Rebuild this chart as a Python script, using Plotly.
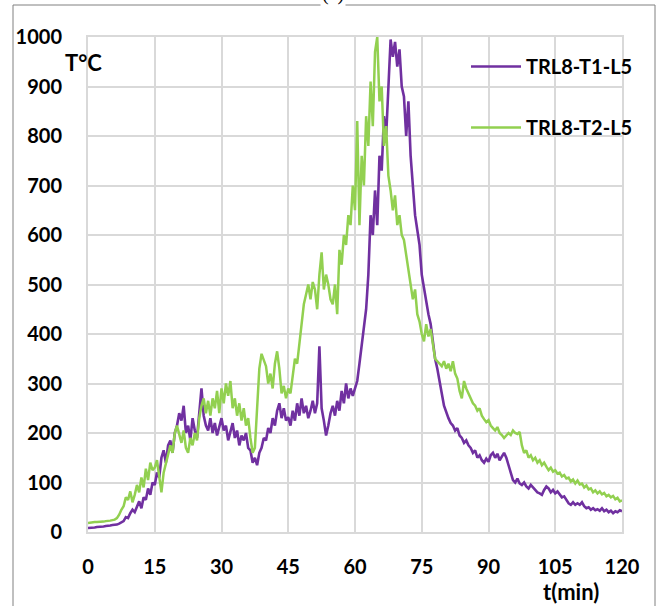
import numpy as np
import plotly.graph_objects as go

# time axis, minutes (readings every 0.5 min)
t_min = np.arange(0, 120.5, 0.5)

# TRL8-T1-L5 temperature, degC, in 5-minute blocks
t1_temp = (
    [8, 8, 9, 9, 10, 10, 11, 11, 12, 12]
    + [13, 14, 14, 15, 17, 20, 22, 30, 28, 38]
    + [45, 40, 52, 62, 48, 70, 65, 88, 75, 100]
    + [95, 120, 110, 150, 165, 140, 175, 185, 160, 200]
    + [215, 240, 225, 255, 200, 215, 185, 230, 205, 190]
    + [240, 290, 235, 215, 205, 230, 200, 220, 195, 210]
    + [230, 205, 215, 185, 200, 220, 190, 205, 175, 195]
    + [185, 200, 170, 165, 140, 150, 135, 160, 170, 190]
    + [185, 210, 200, 230, 215, 245, 260, 230, 250, 225]
    + [232, 215, 245, 225, 260, 235, 270, 240, 255, 230]
    + [245, 265, 240, 260, 375, 250, 225, 195, 215, 240]
    + [255, 235, 265, 245, 285, 260, 300, 270, 290, 275]
    + [290, 305, 340, 380, 410, 450, 520, 640, 600, 690]
    + [620, 760, 730, 840, 800, 900, 995, 960, 990, 940]
    + [975, 900, 880, 800, 870, 760, 690, 640, 610, 580]
    + [520, 490, 460, 440, 420, 380, 350, 330, 300, 280]
    + [255, 240, 230, 220, 215, 205, 210, 195, 190, 180]
    + [185, 175, 170, 160, 165, 150, 155, 145, 140, 148]
    + [142, 155, 160, 150, 158, 145, 152, 160, 150, 135]
    + [115, 105, 100, 108, 98, 95, 100, 92, 88, 95]
    + [90, 85, 80, 78, 75, 85, 92, 88, 80, 85]
    + [78, 82, 75, 70, 72, 65, 58, 55, 60, 55]
    + [58, 55, 60, 52, 48, 50, 45, 48, 44, 46]
    + [43, 48, 42, 45, 40, 43, 38, 42, 40, 44]
    + [42]
)

# TRL8-T2-L5 temperature, degC, in 5-minute blocks
t2_temp = (
    [18, 19, 19, 20, 20, 20, 21, 21, 22, 22]
    + [23, 24, 25, 28, 35, 45, 52, 70, 65, 82]
    + [60, 75, 95, 80, 110, 90, 128, 105, 140, 125]
    + [130, 145, 110, 80, 120, 140, 155, 175, 160, 200]
    + [215, 200, 180, 205, 170, 160, 190, 175, 200, 185]
    + [230, 255, 270, 240, 265, 235, 270, 250, 285, 240]
    + [290, 260, 300, 275, 305, 250, 270, 235, 260, 225]
    + [250, 215, 230, 190, 160, 170, 240, 330, 360, 345]
    + [335, 300, 320, 290, 340, 365, 330, 280, 295, 270]
    + [290, 280, 320, 350, 340, 385, 420, 460, 480, 500]
    + [470, 505, 490, 450, 520, 565, 490, 520, 500, 470]
    + [460, 500, 440, 570, 540, 600, 580, 640, 620, 700]
    + [650, 830, 620, 760, 700, 840, 780, 910, 820, 970]
    + [1000, 870, 900, 780, 820, 720, 690, 650, 680, 620]
    + [640, 600, 590, 560, 520, 500, 470, 490, 440, 425]
    + [400, 385, 420, 395, 410, 380, 350, 345, 340, 335]
    + [345, 330, 340, 325, 345, 320, 310, 285, 270, 305]
    + [290, 280, 270, 260, 255, 245, 250, 235, 228, 222]
    + [226, 215, 210, 205, 212, 200, 196, 190, 195, 200]
    + [196, 205, 200, 198, 202, 175, 160, 165, 150, 155]
    + [145, 150, 140, 145, 135, 140, 132, 125, 130, 122]
    + [125, 118, 120, 112, 115, 108, 110, 102, 106, 98]
    + [104, 96, 98, 90, 94, 86, 88, 80, 84, 78]
    + [82, 76, 79, 72, 75, 70, 73, 66, 69, 62]
    + [64]
)

series_names = ["TRL8-T1-L5", "TRL8-T2-L5"]
x_ticks = [0, 15, 30, 45, 60, 75, 90, 105, 120]
y_ticks = [0, 100, 200, 300, 400, 500, 600, 700, 800, 900, 1000]

PURPLE = "#7030A0"
GREEN = "#92D050"
GRID = "#d9d9d9"
FONT = "Lato"

W, H = 659, 606
L, R, T, B = 88, 37, 37, 74
PW, PH = W - L - R, H - T - B


def px_x(px):
    return (px - L) / PW


def px_y(py):
    return (H - B - py) / PH


fig = go.Figure()
fig.add_trace(go.Scatter(
    x=t_min, y=t1_temp, mode="lines", name=series_names[0],
    legendgroup="a", line=dict(color=PURPLE, width=2.6),
))
fig.add_trace(go.Scatter(
    x=t_min, y=t2_temp, mode="lines", name=series_names[1],
    legendgroup="b", line=dict(color=GREEN, width=2.5),
))

axis_common = dict(
    showgrid=True, gridcolor=GRID, gridwidth=2,
    showline=True, linecolor=GRID, linewidth=2, mirror=True,
    zeroline=False, ticks="",
    tickfont=dict(family=FONT, size=20, color="black", weight="bold"),
)
fig.update_xaxes(range=[0, 120], tickvals=x_ticks, ticklabelstandoff=16, **axis_common)
fig.update_yaxes(range=[0, 1000], tickvals=y_ticks, ticklabelstandoff=20, **axis_common)

# outer frame
fig.add_shape(type="rect", xref="paper", yref="paper",
              x0=px_x(13), x1=px_x(655), y0=px_y(620), y1=px_y(5),
              line=dict(color="#808080", width=1), layer="below")

fig.add_annotation(text="T°C", xref="paper", yref="paper",
                   x=px_x(83), y=px_y(62), xanchor="center", yanchor="middle",
                   showarrow=False,
                   font=dict(family=FONT, size=22, color="black", weight="bold"))
fig.add_annotation(text="t(min)", xref="paper", yref="paper",
                   x=px_x(571), y=px_y(591), xanchor="center", yanchor="middle",
                   showarrow=False,
                   font=dict(family=FONT, size=22, color="black", weight="bold"))
fig.add_annotation(text="(c)", xref="paper", yref="paper",
                   x=px_x(333), y=px_y(7), xanchor="center", yanchor="bottom",
                   showarrow=False, bgcolor="white",
                   font=dict(family="Liberation Serif", size=20, color="black"))

fig.update_layout(
    width=W, height=H,
    margin=dict(l=L, r=R, t=T, b=B),
    paper_bgcolor="white", plot_bgcolor="white",
    showlegend=True,
    legend=dict(
        x=px_x(466), y=px_y(47), xanchor="left", yanchor="top",
        bgcolor="rgba(0,0,0,0)", tracegroupgap=32, itemwidth=50,
        font=dict(family=FONT, size=20, color="black", weight="bold"),
    ),
)

fig.write_html("out.html")
